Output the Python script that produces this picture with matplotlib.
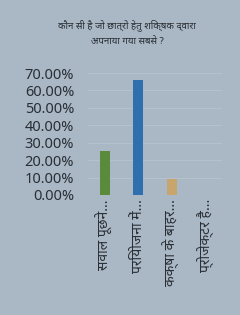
import matplotlib
matplotlib.use("Agg")
import matplotlib.pyplot as plt
from matplotlib.ticker import PercentFormatter

# data
categories = ["सवाल पूछने...", "परियोजना में...", "कक्षा के बाहर...", "प्रोजेक्टर है..."]
values = [0.25, 0.66, 0.09, 0.0]
colors = ["#5a8a3c", "#2f6fae", "#c9a56e", "#9aa9b8"]
title = "कौन सी है जो छात्रों हेतु शिक्षक द्वारा\nअपनाया गया सबसे ?"
yticks = [0, 0.1, 0.2, 0.3, 0.4, 0.5, 0.6, 0.7]

bg = "#aab8c5"
fams = ["Noto Sans", "DejaVu Sans"]
plt.rcParams["font.family"] = fams

fig = plt.figure(figsize=(2.4, 3.15), dpi=100, facecolor=bg)
ax = fig.add_axes([0.367, 0.381, 0.558, 0.387], facecolor=bg)

ax.bar(range(len(categories)), values, width=0.3, color=colors)
ax.set_xlim(-0.5, 3.5)
ax.set_ylim(0, 0.7)
ax.set_yticks(yticks)
ax.yaxis.set_major_formatter(PercentFormatter(1.0, decimals=2))
ax.set_xticks(range(len(categories)))
ax.set_xticklabels(categories, rotation=90, fontsize=10, color="#2a2f36")
ax.tick_params(axis="y", labelsize=10.5, colors="#2a2f36", length=0, pad=10)
ax.tick_params(axis="x", length=0, pad=3)
ax.grid(axis="y", color="#b8c4cf", linewidth=0.6)
ax.set_axisbelow(True)
for s in ax.spines.values():
    s.set_visible(False)

fig.text(0.53, 0.895, title, ha="center", va="center", fontsize=7,
         color="#2a2f36", linespacing=2.0)

fig.savefig("out.png", dpi=100, facecolor=bg)
